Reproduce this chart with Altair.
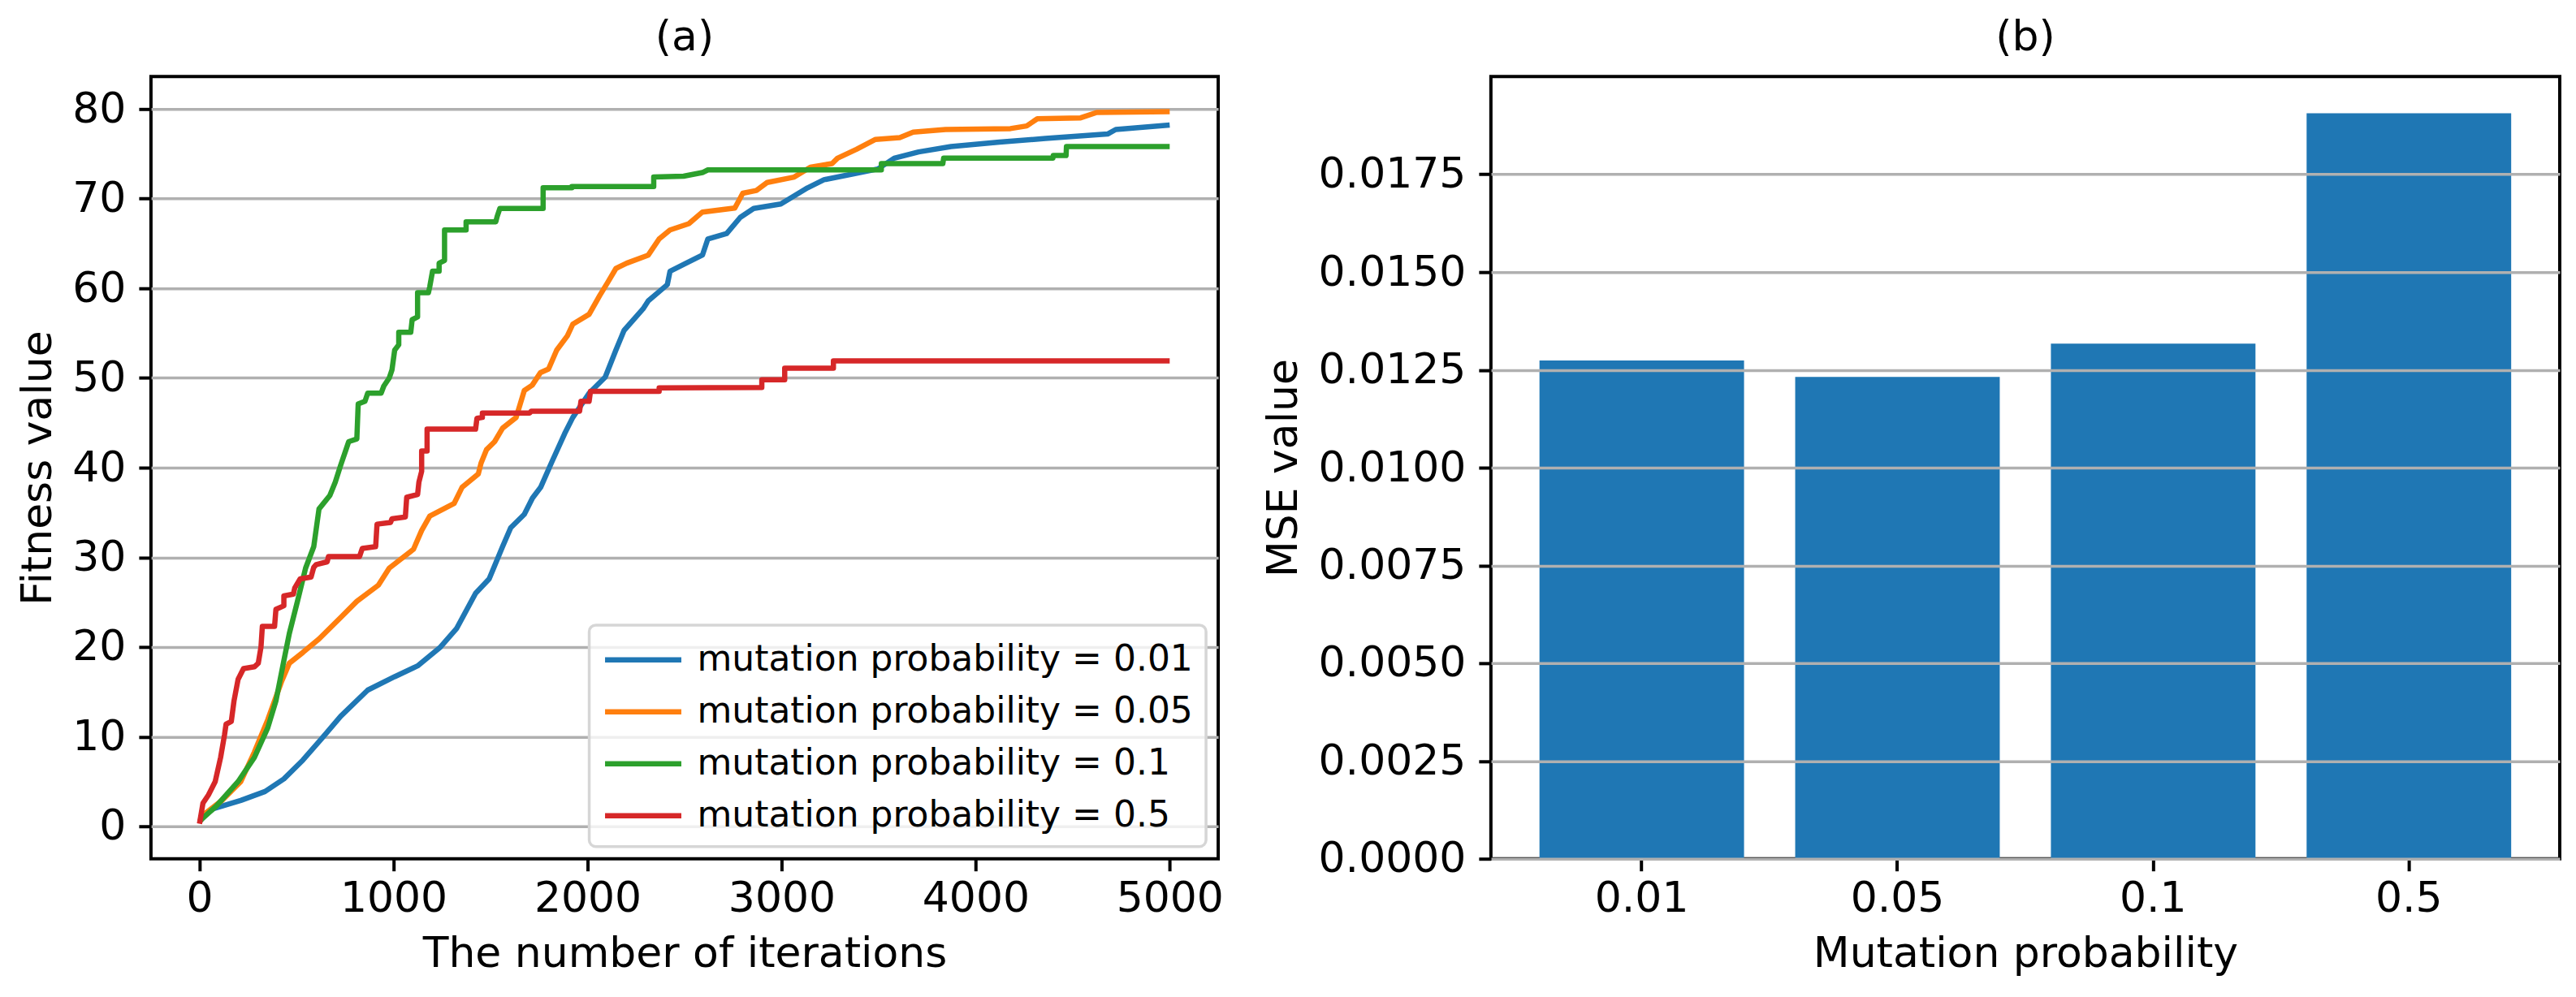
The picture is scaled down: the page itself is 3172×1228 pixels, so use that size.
import altair as alt
import pandas as pd

FONT = "DejaVu Sans"

series_labels = [
    "mutation probability = 0.01",
    "mutation probability = 0.05",
    "mutation probability = 0.1",
    "mutation probability = 0.5",
]
series_colors = ["#1f77b4", "#ff7f0e", "#2ca02c", "#d62728"]

# (iteration, fitness)
blue_pts = [(0, 0.5), (32, 1.4), (74, 2.0), (213, 2.9), (338, 3.9), (435, 5.3), (533, 7.4),
            (630, 9.8), (728, 12.3), (867, 15.2), (1006, 16.7), (1124, 17.9), (1242, 20.0),
            (1326, 22.1), (1423, 26.0), (1493, 27.6), (1562, 31.2), (1604, 33.3), (1674, 34.8),
            (1716, 36.6), (1758, 37.8), (1813, 40.5), (1882, 43.8), (1924, 45.6), (2008, 48.3),
            (2091, 50.1), (2146, 53.1), (2188, 55.3), (2286, 57.7), (2313, 58.6), (2411, 60.4),
            (2425, 61.9), (2508, 62.8), (2592, 63.7), (2620, 65.5), (2717, 66.1), (2787, 67.9),
            (2856, 68.9), (2996, 69.4), (3134, 71.2), (3218, 72.1), (3357, 72.7), (3496, 73.3),
            (3580, 74.5), (3706, 75.2), (3873, 75.8), (4123, 76.3), (4360, 76.7), (4680, 77.2),
            (4722, 77.7), (5000, 78.2)]
orange_pts = [(0, 0.5), (32, 1.5), (116, 2.9), (213, 5.0), (283, 8.3), (352, 11.9), (422, 16.1),
              (463, 18.2), (533, 19.4), (616, 20.9), (728, 23.3), (811, 25.1), (922, 26.9),
              (978, 28.8), (1103, 30.9), (1145, 33.0), (1187, 34.6), (1312, 36.0), (1353, 37.8),
              (1437, 39.3), (1451, 40.5), (1479, 42.0), (1521, 42.9), (1562, 44.4), (1632, 45.6),
              (1674, 48.6), (1715, 49.2), (1757, 50.6), (1799, 51.0), (1841, 53.1), (1896, 54.7),
              (1924, 56.0), (2008, 57.1), (2063, 59.2), (2105, 60.7), (2146, 62.2), (2202, 62.8),
              (2313, 63.7), (2369, 65.5), (2425, 66.5), (2522, 67.2), (2592, 68.5), (2759, 68.95),
              (2800, 70.6), (2870, 70.9), (2926, 71.8), (3065, 72.4), (3148, 73.5), (3260, 73.9),
              (3288, 74.5), (3386, 75.5), (3484, 76.6), (3609, 76.8), (3678, 77.4), (3845, 77.7),
              (4179, 77.8), (4263, 78.1), (4318, 78.9), (4541, 79.0), (4624, 79.6), (5000, 79.7)]
green_pts = [(0, 0.6), (88, 2.3), (199, 5.0), (283, 7.7), (352, 11.0), (394, 14.0), (435, 18.5),
             (463, 21.5), (505, 25.1), (547, 28.8), (589, 31.2), (616, 35.4), (672, 36.9),
             (700, 38.4), (728, 40.3), (755, 42.0), (769, 42.9), (811, 43.2), (818, 47.1),
             (853, 47.4), (867, 48.3), (936, 48.3), (950, 49.1), (978, 50.0), (992, 50.9),
             (1006, 53.1), (1027, 53.7), (1027, 55.1), (1089, 55.1), (1096, 56.5), (1124, 56.8),
             (1124, 59.5), (1180, 59.5), (1187, 60.2), (1201, 61.9), (1235, 61.9), (1235, 62.8),
             (1263, 63.1), (1263, 66.5), (1374, 66.5), (1374, 67.4), (1527, 67.4), (1534, 68.0),
             (1548, 68.9), (1771, 68.9), (1771, 71.2), (1919, 71.2), (1919, 71.35), (2341, 71.35),
             (2341, 72.4), (2495, 72.5), (2592, 72.9), (2620, 73.2), (3514, 73.2), (3514, 73.9),
             (3831, 73.9), (3835, 74.5), (4398, 74.5), (4400, 74.8), (4466, 74.8), (4468, 75.8),
             (5000, 75.8)]
red_pts = [(0, 0.3), (18, 2.6), (46, 3.5), (81, 5.0), (109, 7.7), (129, 10.2), (137, 11.4),
           (164, 11.7), (178, 14.0), (199, 16.4), (227, 17.6), (283, 17.8), (303, 18.2),
           (317, 20.0), (324, 22.3), (387, 22.3), (394, 24.2), (435, 24.6), (435, 25.7),
           (484, 25.9), (491, 26.6), (519, 27.6), (575, 27.8), (589, 28.9), (602, 29.2),
           (658, 29.5), (665, 30.1), (825, 30.1), (839, 31.0), (908, 31.2), (915, 33.7),
           (985, 33.9), (992, 34.3), (1061, 34.5), (1068, 36.7), (1124, 37.0), (1131, 38.4),
           (1145, 39.6), (1145, 41.85), (1173, 41.85), (1173, 44.3), (1423, 44.3), (1430, 45.5),
           (1458, 45.6), (1458, 46.1), (1702, 46.1), (1710, 46.3), (1959, 46.3), (1966, 47.4),
           (2008, 47.4), (2015, 48.5), (2369, 48.5), (2369, 48.9), (2898, 48.95), (2898, 49.8),
           (3016, 49.8), (3016, 51.1), (3267, 51.1), (3267, 51.9), (5000, 51.9)]

x_ticks = [0, 1000, 2000, 3000, 4000, 5000]
y_ticks = [0, 10, 20, 30, 40, 50, 60, 70, 80]

bar_categories = ["0.01", "0.05", "0.1", "0.5"]
bar_values = [0.01274, 0.01232, 0.01317, 0.01906]
mse_ticks = [0.0, 0.0025, 0.005, 0.0075, 0.01, 0.0125, 0.015, 0.0175]

rows = []
for lab, pts in zip(series_labels, [blue_pts, orange_pts, green_pts, red_pts]):
    for i, (x, y) in enumerate(pts):
        rows.append({"series": lab, "iter": x, "fitness": y, "idx": i})
line_df = pd.DataFrame(rows)

left = alt.Chart(line_df).mark_line(strokeWidth=6.5, strokeJoin="round", clip=True).encode(
    x=alt.X("iter:Q",
            scale=alt.Scale(domain=[-250, 5250], nice=False, zero=False),
            axis=alt.Axis(values=x_ticks, format="d", title="The number of iterations", grid=False)),
    y=alt.Y("fitness:Q",
            scale=alt.Scale(domain=[-3.6, 83.6], nice=False, zero=False),
            axis=alt.Axis(values=y_ticks, format="d", title="Fitness value", grid=True)),
    color=alt.Color("series:N",
                    scale=alt.Scale(domain=series_labels, range=series_colors),
                    legend=alt.Legend(title=None, orient="bottom-right", offset=15)),
    order=alt.Order("idx:Q"),
).properties(width=1315, height=964, title=alt.TitleParams("(a)"))

bar_df = pd.DataFrame({"prob": bar_categories, "mse": bar_values})
right = alt.Chart(bar_df).mark_bar(color="#1f77b4").encode(
    x=alt.X("prob:N", sort=bar_categories,
            scale=alt.Scale(paddingInner=0.2, paddingOuter=0.19),
            axis=alt.Axis(title="Mutation probability", labelAngle=0, grid=False)),
    y=alt.Y("mse:Q",
            scale=alt.Scale(domain=[0, 0.02], nice=False),
            axis=alt.Axis(values=mse_ticks, format=".4f", title="MSE value", grid=True,
                          zindex=1, titlePadding=28)),
).properties(width=1317, height=964, title=alt.TitleParams("(b)"))

chart = alt.hconcat(left, right, spacing=336, bounds="flush").resolve_legend(
    color="independent"
).resolve_scale(
    color="independent"
).properties(
    padding={"left": 10, "top": 10, "right": 10, "bottom": 10}
).configure_view(
    stroke="black", strokeWidth=4
).configure_axis(
    labelFont=FONT, labelFontSize=52, labelColor="black", labelLimit=600,
    titleFont=FONT, titleFontSize=52, titleFontWeight="normal", titleColor="black",
    tickColor="black", tickWidth=4, tickSize=15, domain=False,
    gridColor="#b0b0b0", gridWidth=3.5, labelFlush=False, labelOverlap=False,
).configure_axisX(
    labelPadding=9, titlePadding=17
).configure_axisY(
    labelPadding=16, titlePadding=15
).configure_title(
    font=FONT, fontSize=52, fontWeight="normal", color="black", offset=21, anchor="middle"
).configure_legend(
    padding=16, fillColor="rgba(255,255,255,0.8)", strokeColor="#d6d6d6", strokeWidth=3.5,
    cornerRadius=8, symbolType="M-1,0H3", symbolSize=2209, symbolStrokeWidth=6.5,
    labelFont=FONT, labelFontSize=44, labelColor="black", labelOffset=63,
    rowPadding=15, labelLimit=2000,
)

chart.save("out.html", embed_options={"renderer": "svg", "actions": False})
